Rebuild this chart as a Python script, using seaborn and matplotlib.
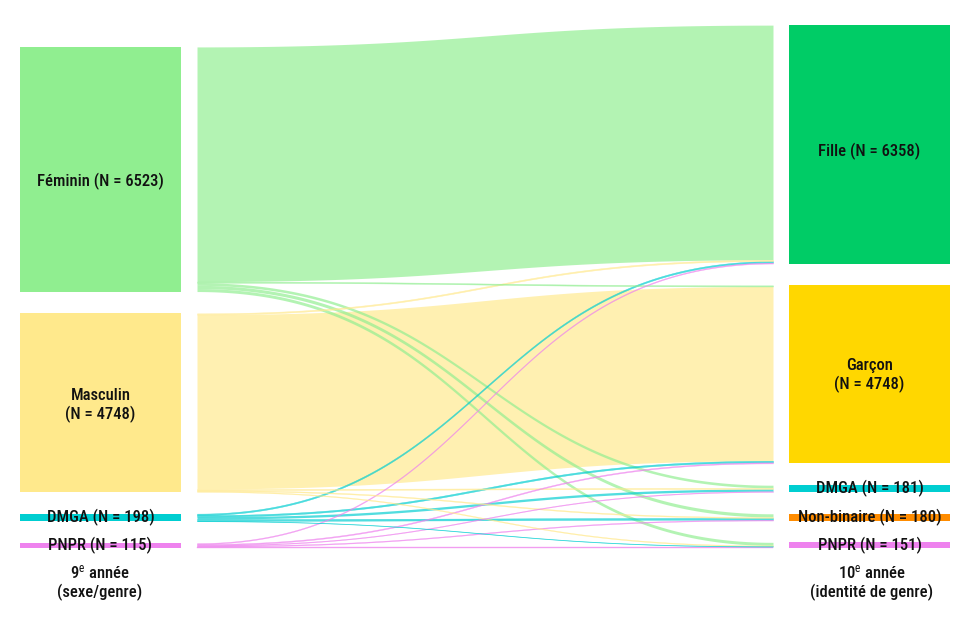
import numpy as np
import matplotlib
matplotlib.use("Agg")
import matplotlib.pyplot as plt
import seaborn as sns
from matplotlib import font_manager

# 9e année (sexe/genre) -> 10e année (identité de genre)
sources = ["Féminin", "Masculin", "DMGA", "PNPR"]
source_n = [6523, 4748, 198, 115]
source_wrap = [False, True, False, False]
source_colors = ["#90ee90", "#ffe98c", "#00ced1", "#ee82ee"]

targets = ["Fille", "Garçon", "DMGA", "Non-binaire", "PNPR"]
target_n = [6358, 4748, 181, 180, 151]
target_wrap = [False, True, False, False, False]
target_colors = ["#00cc66", "#ffd700", "#00ced1", "#ff8c00", "#ee82ee"]

# rows: sources, columns: targets
flows = [
    [6258, 30, 70, 85, 80],
    [35, 4648, 30, 25, 22],
    [40, 42, 62, 48, 12],
    [25, 28, 19, 22, 37],
]

left_title = ["9$^{\\mathrm{e}}$ année", "(sexe/genre)"]
right_title = ["10$^{\\mathrm{e}}$ année", "(identité de genre)"]

sns.set_theme(style="white")

names = {f.name for f in font_manager.fontManager.ttflist}
family = "DejaVu Sans"
for cand in ["Roboto Condensed", "Liberation Sans Narrow", "DejaVu Sans Condensed",
             "Open Sans Condensed", "Liberation Sans"]:
    if cand in names:
        family = cand
        break
plt.rcParams["font.family"] = [family, "DejaVu Sans"]
plt.rcParams["mathtext.fontset"] = "custom"
plt.rcParams["mathtext.rm"] = family
plt.rcParams["mathtext.it"] = family + ":italic"
plt.rcParams["mathtext.bf"] = family + ":bold"

fig = plt.figure(figsize=(9.75, 6.17), dpi=100)
ax = fig.add_axes([0, 0, 1, 1])
ax.set_xlim(0, 975)
ax.set_ylim(617, 0)
ax.axis("off")

F = np.array(flows, dtype=float)
k = 0.0375      # px per person
gap = 21.8
bottom = 548.0
lx0, lx1 = 20, 181
rx0, rx1 = 789, 950
fx0, fx1 = 197, 773
# small vertical nudges of the node labels (px)
left_dy = [12, 3, 0, 0]
right_dy = [7, 1, 0, 0, 0]


def stack(sizes):
    h = np.array(sizes) * k
    total = h.sum() + gap * (len(h) - 1)
    tops = bottom - total + np.concatenate([[0], np.cumsum(h[:-1] + gap)])
    return tops, h


ltop, lh = stack(F.sum(axis=1))
rtop, rh = stack(F.sum(axis=0))

# link positions
lpos = np.zeros_like(F)
rpos = np.zeros_like(F)
for i in range(F.shape[0]):
    lpos[i] = ltop[i] + np.concatenate([[0], np.cumsum(F[i, :-1])]) * k
for j in range(F.shape[1]):
    rpos[:, j] = rtop[j] + np.concatenate([[0], np.cumsum(F[:-1, j])]) * k

t = np.linspace(0, 1, 200)
c = 0.5
bx = ((1 - t) ** 3 * fx0 + 3 * (1 - t) ** 2 * t * (fx0 + c * (fx1 - fx0))
      + 3 * (1 - t) * t ** 2 * (fx1 - c * (fx1 - fx0)) + t ** 3 * fx1)
s = 3 * (1 - t) * t ** 2 + t ** 3

order = sorted(((F[i, j], i, j) for i in range(F.shape[0]) for j in range(F.shape[1])),
               reverse=True)
for v, i, j in order:
    h = v * k
    y0, y1 = lpos[i, j], rpos[i, j]
    top = y0 + (y1 - y0) * s
    ax.fill_between(bx, top, top + h, color=source_colors[i], alpha=0.68,
                    lw=0.3 if h < 2 else 0, edgecolor=source_colors[i])

fs = 12
txt = dict(ha="center", va="center", fontsize=fs, color="#111111", fontweight="medium")
for i, name in enumerate(sources):
    ax.add_patch(plt.Rectangle((lx0, ltop[i]), lx1 - lx0, lh[i], color=source_colors[i], lw=0))
    sep = "\n" if source_wrap[i] else " "
    ax.text((lx0 + lx1) / 2, ltop[i] + lh[i] / 2 + left_dy[i],
            f"{name}{sep}(N = {source_n[i]})", linespacing=1.25, **txt)
for j, name in enumerate(targets):
    ax.add_patch(plt.Rectangle((rx0, rtop[j]), rx1 - rx0, rh[j], color=target_colors[j], lw=0))
    sep = "\n" if target_wrap[j] else " "
    ax.text((rx0 + rx1) / 2, rtop[j] + rh[j] / 2 + right_dy[j],
            f"{name}{sep}(N = {target_n[j]})", linespacing=1.25, **txt)

for lines, x in [(left_title, 100), (right_title, 872)]:
    ax.text(x, 572, lines[0], **txt)
    ax.text(x, 592, lines[1], **txt)

fig.savefig("out.png", dpi=100, facecolor="white")
